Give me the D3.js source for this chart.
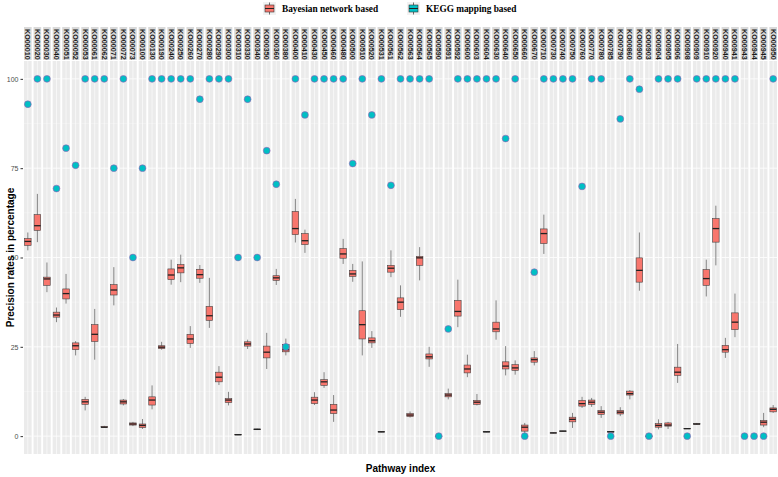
<!DOCTYPE html>
<html>
<head>
<meta charset="utf-8">
<script src="https://cdn.jsdelivr.net/npm/d3@7"></script>
<style>
  body { margin: 0; background: #fff; }
  text { font-family: "Liberation Sans", Arial, sans-serif; }
  .legend text { font-family: "Liberation Serif", "Times New Roman", serif; }
</style>
</head>
<body>
<div id="chart"></div>
<script>
'use strict';

// ---------- data ---------- //
var pathways = ['KO00010','KO00020','KO00030','KO00040','KO00051','KO00052','KO00053','KO00061','KO00062','KO00071',
  'KO00072','KO00073','KO00100','KO00130','KO00190','KO00240','KO00250','KO00260','KO00270','KO00280',
  'KO00290','KO00300','KO00310','KO00330','KO00340','KO00350','KO00360','KO00380','KO00400','KO00410',
  'KO00430','KO00450','KO00460','KO00480','KO00500','KO00510','KO00520','KO00531','KO00561','KO00562',
  'KO00563','KO00564','KO00565','KO00590','KO00591','KO00592','KO00600','KO00603','KO00604','KO00630',
  'KO00640','KO00650','KO00660','KO00670','KO00710','KO00730','KO00740','KO00750','KO00760','KO00770',
  'KO00780','KO00785','KO00790','KO00860','KO00900','KO00903','KO00904','KO00905','KO00906','KO00908',
  'KO00909','KO00910','KO00920','KO00940','KO00941','KO00943','KO00944','KO00945','KO00950'];

// Bayesian network based: [lower whisker, q1, median, q3, upper whisker] (null = none)
var bayesBoxes = [
  [52,53.4,54.5,55.3,57],[54.3,57.6,58.9,62,67.8],[40.3,42.2,44,44.5,48.6],[31.9,33.3,33.9,34.7,36],[37.1,38.4,39.9,41.2,45.4],
  [22.6,24.2,25.3,26.1,26.6],[7.2,8.9,9.6,10.3,11],[21.4,26.5,28.5,31.2,35.6],[2.3,2.4,2.5,2.7,2.9],[36.6,39.5,40.9,42.4,47.3],
  [8.6,9,9.6,10.1,10.4],[2.8,3.1,3.4,3.7,4],[2,2.4,3,3.4,4.8],[7.5,8.7,10.1,11,14.2],[24.2,24.5,24.9,25.3,26.4],
  [42.4,43.8,45.1,46.8,49.4],[43.1,45.7,47.1,48,50.8],[24.7,25.9,27.2,28.5,30.8],[42.9,44.2,45.2,46.7,47.9],[30.3,32.4,33.7,36.3,44.3],
  [14.3,15.2,16.5,17.9,19.6],[8.6,9.4,10.1,10.5,12.4],[0.3,0.35,0.4,0.5,0.6],[24.4,25.2,25.8,26.4,27],[1.7,1.8,1.9,2,2.1],
  [18.8,21.9,23.5,25.2,28.9],[42.3,43.6,44.3,44.9,46.8],[22.6,23.6,24.2,25.6,27.3],[54.2,56.4,58.1,62.9,66.4],[51.3,53.6,54.7,56.7,57.8],
  [8.7,9.1,10.1,10.9,12.3],[13.5,14.2,15.2,15.8,17.9],[4,6.3,7.3,8.9,11.5],[48.2,49.8,51,52.5,55.2],[43.2,44.7,45.4,46.4,48.2],
  [22.6,27.2,31.2,35.1,48.9],[24.7,26.1,26.7,27.5,29.4],[1.1,1.15,1.2,1.25,1.3],[44.5,45.9,47,47.8,52],[33.4,35.4,37.5,38.7,42.2],
  [5.2,5.5,5.9,6.3,6.9],[43.6,47.8,49.9,50.3,52.9],[19.4,21.6,22.2,23,25],[0,0,0,0,0],[10.3,11,11.5,11.9,13.3],
  [30.5,33.6,34.9,38,43.8],[16.5,17.7,18.8,19.9,22.8],[8.6,8.9,9.5,10,11.8],[1.1,1.15,1.2,1.25,1.3],[27,29.2,30,31.9,38],
  [17,18.8,19.6,20.8,25.2],[17.2,18.4,19.1,20,21.2],[0.9,1.4,2.5,3.1,3.7],[19.8,20.7,21.4,21.9,23.8],[51,53.9,56.7,58,62],
  [0.8,0.85,0.9,0.95,1],[1.3,1.35,1.4,1.45,1.5],[2.3,4,4.7,5.3,6.5],[7.9,8.4,9.1,10,11],[8.2,8.9,9.5,10.1,10.7],
  [5.1,6.1,6.7,7.2,8.4],[1.1,1.15,1.2,1.25,1.3],[5.6,6.2,6.7,7.2,8.1],[10.3,11.5,11.9,12.6,12.9],[40.7,43.1,46.4,49.9,57],
  [0,0,0,0,0],[1.9,2.5,3,3.5,4.7],[2,2.8,3.1,3.7,4],[14.9,17,17.9,19.3,25.8],[2,2.05,2.1,2.15,2.2],
  [3.2,3.3,3.4,3.5,3.7],[39.1,42.2,44.1,46.6,49.4],[47.8,54.3,58.1,60.9,64.5],[21.9,23.5,24.2,25.4,27.5],[27.7,29.8,31.9,34.5,39.9],
  null,null,[2.5,3.1,3.9,4.4,6.5],[6.5,6.8,7.5,7.9,8.7]
];

// KEGG mapping based precision
var keggValues = [
  92.9,100,100,69.3,80.6,75.8,100,100,100,75,
  100,50,75,100,100,100,100,100,94.3,100,
  100,100,50,94.3,50,79.9,70.5,25,100,89.9,
  100,100,100,100,76.3,100,89.9,100,70.2,100,
  100,100,100,0,30,100,100,100,100,100,
  83.3,100,0,45.9,100,100,100,100,69.9,100,
  100,0,88.8,100,97.1,0,100,100,100,0,
  100,100,100,100,100,0,0,0,100
];

var yTicks = [0, 25, 50, 75, 100];
var seriesNames = ['Bayesian network based', 'KEGG mapping based'];
var seriesColors = ['#F8766D', '#00BFC4'];

// ---------- layout ---------- //
var width = 778, height = 477;
var left = 24, right = 777, stripTop = 27, stripBottom = 60, panelTop = 61, panelBottom = 454;

var svg = d3.select('#chart').append('svg')
  .attr('width', width)
  .attr('height', height);

var x = d3.scaleBand()
  .domain(pathways)
  .range([left, right])
  .paddingInner(0.2)
  .paddingOuter(0);

var y = d3.scaleLinear()
  .domain([-5, 105])
  .range([panelBottom, panelTop]);

var bw = x.bandwidth();

// panels
var facet = svg.selectAll('g.facet')
  .data(pathways.map(function (p, i) { return { name: p, box: bayesBoxes[i], kegg: keggValues[i] }; }))
  .enter().append('g')
  .attr('class', 'facet')
  .attr('transform', function (d) { return 'translate(' + x(d.name) + ',0)'; });

facet.append('rect')
  .attr('x', 0).attr('y', panelTop)
  .attr('width', bw).attr('height', panelBottom - panelTop)
  .attr('fill', '#EBEBEB');

// minor grid
facet.selectAll('line.minor')
  .data([12.5, 37.5, 62.5, 87.5])
  .enter().append('line')
  .attr('x1', 0).attr('x2', bw)
  .attr('y1', function (d) { return y(d); }).attr('y2', function (d) { return y(d); })
  .attr('stroke', '#fff').attr('stroke-width', 0.3);

// major grid
facet.selectAll('line.major')
  .data(yTicks)
  .enter().append('line')
  .attr('x1', 0).attr('x2', bw)
  .attr('y1', function (d) { return y(d); }).attr('y2', function (d) { return y(d); })
  .attr('stroke', '#fff').attr('stroke-width', 0.8);

facet.append('line')
  .attr('x1', bw / 2).attr('x2', bw / 2)
  .attr('y1', panelTop).attr('y2', panelBottom)
  .attr('stroke', '#fff').attr('stroke-width', 0.6);

// strips
facet.append('rect')
  .attr('x', 0).attr('y', stripTop)
  .attr('width', bw).attr('height', stripBottom - stripTop)
  .attr('fill', '#D9D9D9');

facet.append('text')
  .attr('transform', 'translate(' + (bw / 2) + ',' + (stripTop + 2) + ') rotate(90)')
  .attr('dy', '0.35em')
  .attr('font-size', 7.2)
  .attr('font-weight', 'bold')
  .attr('fill', '#1A1A1A')
  .text(function (d) { return d.name; });

// boxplots
var boxW = bw * 0.86;
var bx = (bw - boxW) / 2;
var boxes = facet.filter(function (d) { return d.box; });

boxes.append('line')
  .attr('x1', bw / 2).attr('x2', bw / 2)
  .attr('y1', function (d) { return y(d.box[0]); })
  .attr('y2', function (d) { return y(d.box[4]); })
  .attr('stroke', '#555').attr('stroke-width', 0.7);

boxes.append('rect')
  .attr('x', bx).attr('width', boxW)
  .attr('y', function (d) { return y(d.box[3]); })
  .attr('height', function (d) { return Math.max(0.1, y(d.box[1]) - y(d.box[3])); })
  .attr('fill', seriesColors[0])
  .attr('stroke', '#444').attr('stroke-width', 0.6);

boxes.append('line')
  .attr('x1', bx).attr('x2', bx + boxW)
  .attr('y1', function (d) { return y(d.box[2]); })
  .attr('y2', function (d) { return y(d.box[2]); })
  .attr('stroke', '#222').attr('stroke-width', 1.3);

// KEGG points
facet.append('circle')
  .attr('cx', bw / 2)
  .attr('cy', function (d) { return y(d.kegg); })
  .attr('r', 3.4)
  .attr('fill', seriesColors[1])
  .attr('stroke', '#9b59b6').attr('stroke-width', 0.6);

// y axis
var yAxis = svg.append('g')
  .attr('transform', 'translate(' + (left - 1) + ',0)')
  .call(d3.axisLeft(y).tickValues(yTicks).tickSize(2.5).tickPadding(2));
yAxis.select('.domain').remove();
yAxis.selectAll('line').attr('stroke', '#333');
yAxis.selectAll('text').attr('font-size', 7).attr('fill', '#4D4D4D')
  .style('font-family', '"Liberation Sans", Arial, sans-serif');

svg.append('text')
  .attr('transform', 'translate(10,' + ((panelTop + panelBottom) / 2) + ') rotate(-90)')
  .attr('text-anchor', 'middle')
  .attr('dy', '0.35em')
  .attr('font-size', 10)
  .attr('font-weight', 'bold')
  .text('Precision rates in percentage');

svg.append('text')
  .attr('x', (left + right) / 2).attr('y', 472)
  .attr('text-anchor', 'middle')
  .attr('font-size', 10)
  .attr('font-weight', 'bold')
  .text('Pathway index');

// legend
var legendX = [263, 407];
var legend = svg.selectAll('g.legend')
  .data(seriesNames)
  .enter().append('g')
  .attr('class', 'legend')
  .attr('transform', function (d, i) { return 'translate(' + legendX[i] + ',2)'; });

legend.append('rect')
  .attr('width', 13).attr('height', 13)
  .attr('fill', '#F2F2F2');
legend.append('line')
  .attr('x1', 6.5).attr('x2', 6.5).attr('y1', 0.5).attr('y2', 12.5)
  .attr('stroke', '#333').attr('stroke-width', 0.7);
legend.append('rect')
  .attr('x', 2).attr('y', 3).attr('width', 9).attr('height', 7)
  .attr('fill', function (d, i) { return seriesColors[i]; })
  .attr('stroke', '#333').attr('stroke-width', 0.6);
legend.append('line')
  .attr('x1', 2).attr('x2', 11).attr('y1', 6.5).attr('y2', 6.5)
  .attr('stroke', '#222').attr('stroke-width', 1);
legend.append('text')
  .attr('x', 19).attr('y', 6.5)
  .attr('dy', '0.35em')
  .attr('font-size', 9.3)
  .attr('font-weight', 'bold')
  .text(function (d) { return d; });
</script>
</body>
</html>
